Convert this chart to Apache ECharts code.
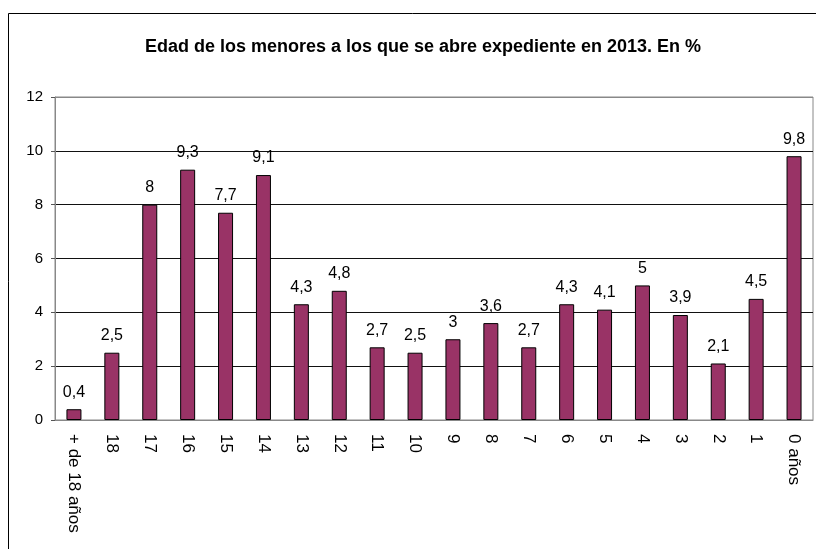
<!DOCTYPE html>
<html>
<head>
<meta charset="utf-8">
<script src="https://cdn.jsdelivr.net/npm/echarts@6/dist/echarts.min.js"></script>
<style>
  html, body { margin: 0; padding: 0; background: #fff; }
  #chart { width: 816px; height: 549px; }
</style>
</head>
<body>
<div id="chart"></div>
<script>
var edades = ['+ de 18 años', '18', '17', '16', '15', '14', '13', '12', '11', '10',
              '9', '8', '7', '6', '5', '4', '3', '2', '1', '0 años'];
var porcentajes = [0.4, 2.5, 8, 9.3, 7.7, 9.1, 4.3, 4.8, 2.7, 2.5,
                   3, 3.6, 2.7, 4.3, 4.1, 5, 3.9, 2.1, 4.5, 9.8];
var titulo = 'Edad de los menores a los que se abre expediente en 2013. En %';

var myChart = echarts.init(document.getElementById('chart'));

var option = {
    backgroundColor: '#fff',
    animation: false,
    textStyle: { fontFamily: 'Liberation Sans, Arial, sans-serif' },
    title: {
        text: titulo,
        left: 418,
        textAlign: 'center',
        top: 33,
        textStyle: { fontSize: 18, fontWeight: 'bold', color: '#000' }
    },
    graphic: [{
        type: 'rect',
        shape: { x: 8.5, y: 13.5, width: 830, height: 560 },
        style: { fill: 'none', stroke: '#000', lineWidth: 1 },
        silent: true
    }],
    grid: {
        left: 55, right: 3, top: 97, bottom: 129,
        show: true, borderColor: '#888', borderWidth: 1
    },
    xAxis: {
        type: 'category',
        data: edades,
        axisLine: { lineStyle: { color: '#888' } },
        axisTick: { length: 5, lineStyle: { color: '#555' } },
        axisLabel: {
            rotate: -90, color: '#000', fontSize: 17, margin: 14
        }
    },
    yAxis: {
        type: 'value',
        min: 0, max: 12, interval: 2,
        axisLine: { show: true, lineStyle: { color: '#888' } },
        axisTick: { show: true, length: 4, lineStyle: { color: '#555' } },
        axisLabel: { color: '#000', fontSize: 15, margin: 12 },
        splitLine: {
            lineStyle: { color: ['#888', '#111', '#111', '#111', '#111', '#111', '#888'], width: 1 }
        }
    },
    series: [{
        type: 'bar',
        data: porcentajes,
        barWidth: 15,
        itemStyle: { color: '#993366', borderColor: '#000', borderWidth: 1 },
        label: {
            show: true,
            position: 'top',
            distance: 9,
            color: '#000',
            fontSize: 16,
            formatter: function (p) { return String(p.value).replace('.', ','); }
        }
    }]
};

myChart.setOption(option);
</script>
</body>
</html>
